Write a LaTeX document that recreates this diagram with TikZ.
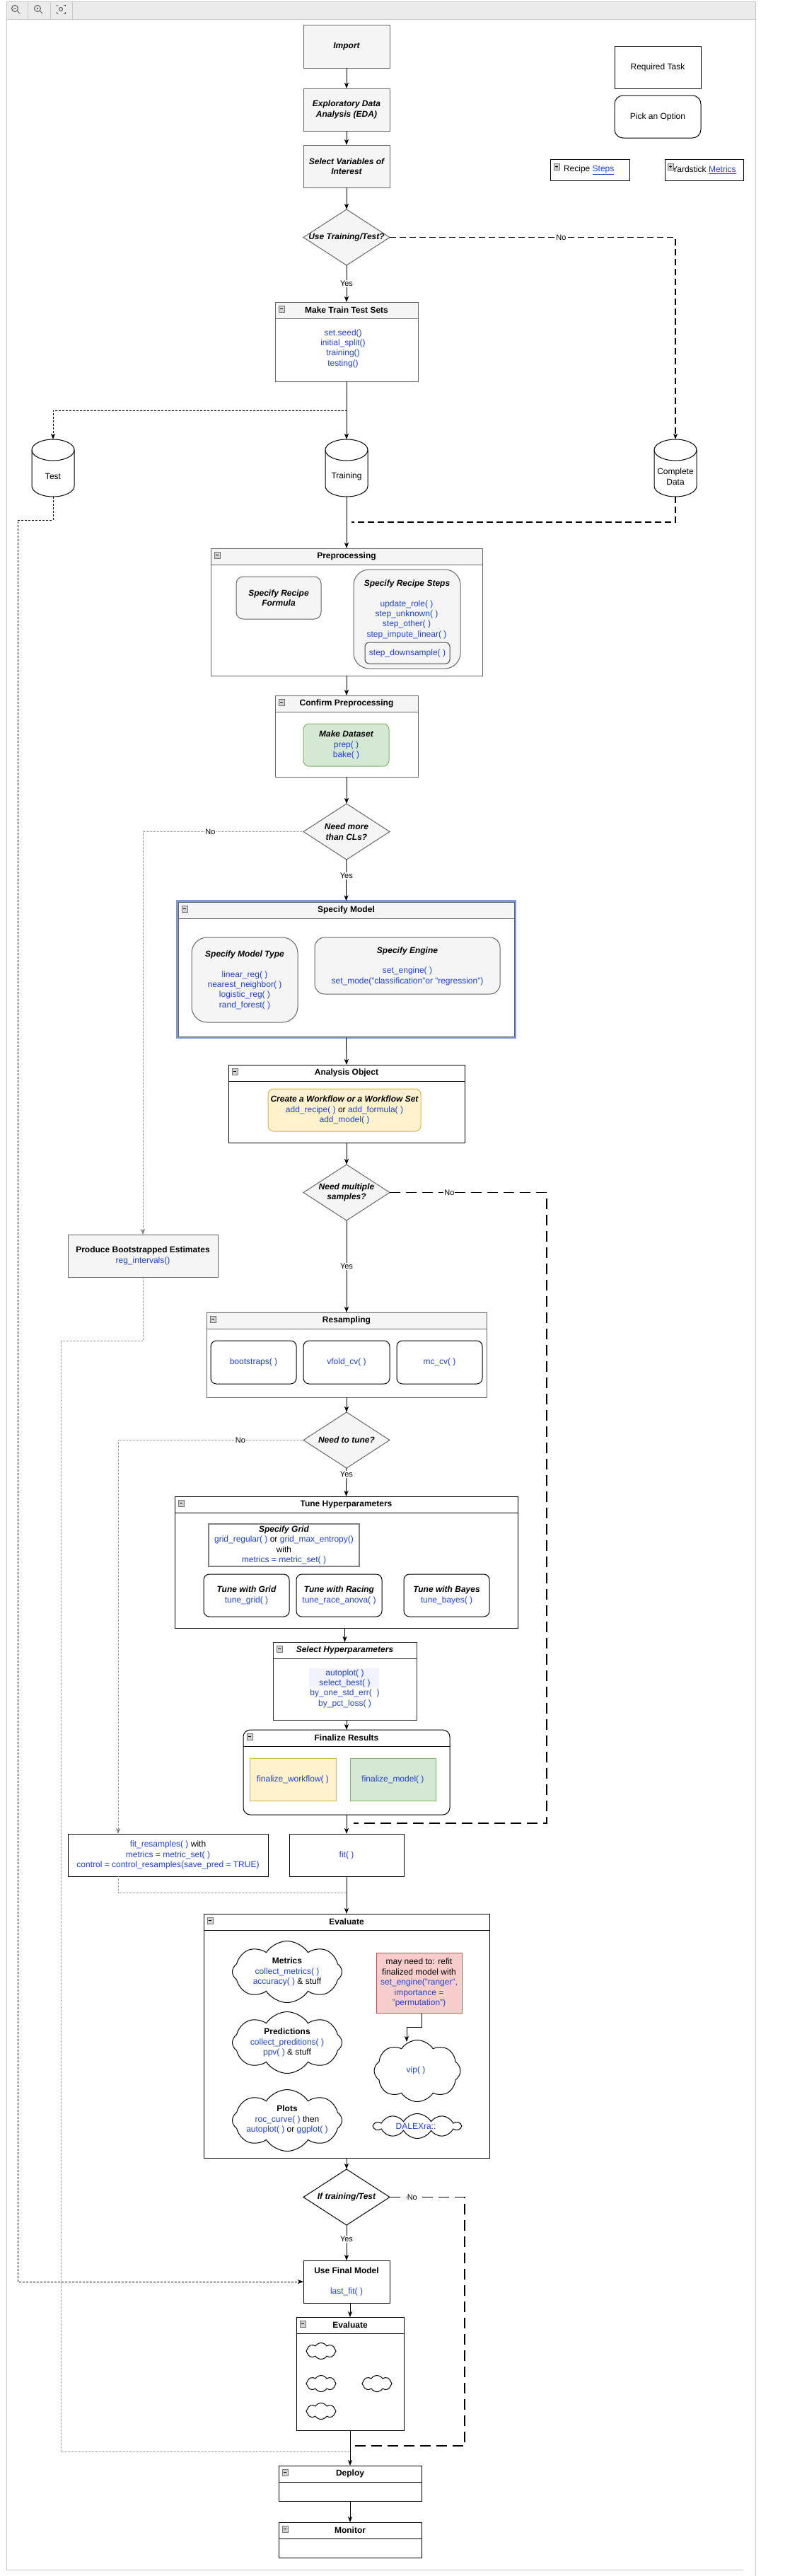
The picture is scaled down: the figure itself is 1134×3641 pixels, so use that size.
\documentclass[tikz,border=0pt]{standalone}
\usepackage{fontspec}
\setmainfont{Liberation Sans}
\usetikzlibrary{arrows.meta,shapes.symbols,calc}
\definecolor{cgray}{HTML}{666666}
\definecolor{cfill}{HTML}{F5F5F5}
\definecolor{cblue}{HTML}{2143CC}
\definecolor{gfill}{HTML}{D5E8D4}\definecolor{gline}{HTML}{82B366}
\definecolor{ofill}{HTML}{FFF2CC}\definecolor{oline}{HTML}{D6B656}
\definecolor{rfill}{HTML}{F8CECC}\definecolor{rline}{HTML}{B85450}
\definecolor{smblue}{HTML}{7E95E6}
\definecolor{framec}{HTML}{C8C8C8}
\definecolor{tbar}{HTML}{EBEBEB}
\definecolor{dotc}{HTML}{808080}
\definecolor{lav}{HTML}{F1F2FB}
\newcommand{\bl}[1]{\textcolor{cblue}{#1}}
\newcommand{\boxicon}[2]{%
  \draw[draw=black!55, fill=black!18, line width=0.6pt] #1 rectangle ++(8,9);
  \draw[line width=0.9pt] #1 ++(2,4.5) -- ++(4,0);
  \ifnum#2=1 \draw[line width=0.9pt] #1 ++(4,2.5) -- ++(0,4);\fi}
\newcommand{\lane}[8]{%
  \node[#6, minimum width=#4pt, minimum height=#5pt] (#1) at (#2,#3) {};
  \path[#7] ([xshift=0.5pt,yshift=-0.5pt]#1.north west) rectangle ([xshift=-0.5pt,yshift=-23pt]#1.north east);
  \draw[#6, fill=none] ([yshift=-23pt]#1.north west) -- ([yshift=-23pt]#1.north east);
  \node[ttl] (#1-t) at ([yshift=-11.5pt]#1.north) {#8};
  \boxicon{([xshift=5pt,yshift=-5pt]#1.north west)}{0}}
\newcommand{\dia}[5]{%
  \path[#4, line width=1pt] (#2-61,#3) -- (#2,#3-39.5) -- (#2+61,#3) -- (#2,#3+39.5) -- cycle;
  \node[minimum width=122pt, minimum height=79pt, bi] (#1) at (#2,#3) {#5};}
\newcommand{\cyl}[4]{%
  \node[minimum width=60pt, minimum height=81pt] (#1) at (#2,#3) {};
  \draw[line width=1pt, fill=white] ([yshift=-15pt]#1.north west) -- ([yshift=15pt]#1.south west)
    arc[start angle=180, end angle=360, x radius=30pt, y radius=15pt] -- ([yshift=-15pt]#1.north east)
    arc[start angle=0, end angle=180, x radius=30pt, y radius=15pt] -- cycle;
  \draw[line width=1pt] ([yshift=-15pt]#1.north west) arc[start angle=180, end angle=360, x radius=30pt, y radius=15pt];
  \node (#1-t) at ([yshift=-12pt]#1.center) {#4};}
\begin{document}
\begin{tikzpicture}[x=1pt,y=-1pt,
  every node/.style={font=\fontsize{12}{14.4}\selectfont, inner sep=0pt, outer sep=0pt, align=center},
  gbox/.style={draw=cgray, fill=cfill, line width=1pt},
  wbox/.style={draw=black, fill=white, line width=1pt},
  lgray/.style={draw=cgray, fill=white, line width=1pt},
  lblack/.style={draw=black, fill=white, line width=1pt},
  ldark/.style={draw=black!80, fill=white, line width=1pt},
  lround/.style={draw=black, fill=white, line width=1pt, rounded corners=10pt},
  hdrgray/.style={fill=cfill},
  hdrnone/.style={},
  dgrayfill/.style={draw=cgray, fill=cfill},
  dwhite/.style={draw=black, fill=white},
  ttl/.style={font=\fontsize{12}{14.4}\selectfont\bfseries},
  bi/.style={font=\fontsize{12}{14.4}\selectfont\bfseries\itshape},
  arr/.style={line width=1pt, -{Stealth[length=8pt,width=6pt,inset=2pt]}},
  lbl/.style={font=\fontsize{11}{13}\selectfont, fill=white, inner sep=1pt},
  dmed/.style={line width=1.2pt, dash pattern=on 9pt off 5pt},
  dthick/.style={line width=1.5pt, dash pattern=on 15pt off 8pt},
  dgray/.style={draw=dotc, line width=0.8pt, dash pattern=on 1pt off 1pt},
  dtest/.style={line width=1pt, dash pattern=on 3pt off 2pt},
  cloudst/.style={cloud, cloud puffs=8, cloud puff arc=115, cloud ignores aspect, draw=black, fill=white, line width=1pt},
  rbox/.style={draw=black, fill=white, line width=1pt, rounded corners=8pt}]
\useasboundingbox (0,0) rectangle (1134,3641);
% viewer frame and toolbar
\fill[tbar] (9,2) rectangle (1068,27);
\draw[framec, line width=1pt] (9,27) -- (1068,27);
\draw[framec, line width=1pt] (9,3632) -- (9,2) -- (1068,2) -- (1068,3641);
\draw[framec, line width=1pt] (9,3632) -- (1051,3632);
\foreach \x in {39,71,102} \draw[framec, line width=0.8pt] (\x,2) -- (\x,27);
\begin{scope}[draw=black!65, line width=1pt]
  \draw (21,12) circle[radius=4.5pt]; \draw (24.2,15.2) -- (28,19); \draw (19,12) -- (23,12);
  \draw (53,12) circle[radius=4.5pt]; \draw (56.2,15.2) -- (60,19); \fill[black!65] (53,12) circle[radius=1.3pt];
  \draw (80,9) -- (80,7) -- (82,7); \draw (90,7) -- (92,7) -- (92,9);
  \draw (80,17) -- (80,19) -- (82,19); \draw (90,19) -- (92,19) -- (92,17);
  \draw (86,13) circle[radius=2.5pt];
\end{scope}

% top column
\node[gbox, minimum width=122pt, minimum height=61pt, bi] (import) at (490,65.5) {Import};
\node[gbox, minimum width=122pt, minimum height=60pt, bi] (eda) at (490,155) {Exploratory Data\\Analysis (EDA)};
\node[gbox, minimum width=122pt, minimum height=60pt, bi] (selvar) at (490,235) {Select Variables of\\Interest};
\dia{d1}{490}{335.5}{dgrayfill}{Use Training/Test?}

% legend
\node[wbox, minimum width=122pt, minimum height=60pt] (req) at (930,95) {Required Task};
\node[wbox, rounded corners=12pt, minimum width=122pt, minimum height=60pt] (pick) at (930,165) {Pick an Option};
\node[wbox, minimum width=112pt, minimum height=30pt] (legrecipe) at (834,240) {};
\node[anchor=west] (legrecipe-t) at ([xshift=19pt]legrecipe.west) {Recipe \bl{\underline{Steps}}};
\boxicon{([xshift=5pt,yshift=-6pt]legrecipe.north west)}{1}
\node[wbox, minimum width=111pt, minimum height=30pt] (legyard) at (995.5,240) {Yardstick \bl{\underline{Metrics}}};
\boxicon{([xshift=4pt,yshift=-6pt]legyard.north west)}{1}

% train / test
\lane{mtts}{490}{483}{202}{112}{lgray}{hdrgray}{Make Train Test Sets}
\node (mtts-c) at (485,492.5) {\bl{set.seed()}\\\bl{initial\_split()}\\\bl{training()}\\\bl{testing()}};
\cyl{test}{75}{661.5}{Test}
\cyl{training}{490}{661.5}{Training}
\cyl{cd}{955}{661.5}{Complete\\Data}

% preprocessing
\lane{pre}{490}{865}{384}{180}{lgray}{hdrgray}{Preprocessing}
\node[gbox, rounded corners=10pt, minimum width=120pt, minimum height=60pt, bi] (formula) at (394,845) {Specify Recipe\\Formula};
\node[gbox, rounded corners=22pt, minimum width=151pt, minimum height=140pt] (rsteps) at (575.5,875) {};
\node[bi] (rsteps-t) at (575.5,825) {Specify Recipe Steps};
\node (rsteps-c) at (575,875.5) {\bl{update\_role( )}\\\bl{step\_unknown( )}\\\bl{step\_other( )}\\\bl{step\_impute\_linear( )}};
\node[draw=black!70, fill=cfill, rounded corners=6pt, line width=1pt, minimum width=120pt, minimum height=30pt] (downs) at (576,923) {\bl{step\_downsample( )}};

\lane{conf}{490}{1040.5}{202}{115}{lgray}{hdrgray}{Confirm Preprocessing}
\node[draw=gline, fill=gfill, rounded corners=8pt, line width=1pt, minimum width=121pt, minimum height=60pt] (mkdata) at (489.5,1053) {{\bfseries\itshape Make Dataset}\\\bl{prep( )}\\\bl{bake( )}};

\dia{d2}{490}{1175.5}{dgrayfill}{Need more\\than CLs?}

% specify model
\node[draw=smblue, line width=3pt, minimum width=478pt, minimum height=193pt] (smouter) at (489.5,1370) {};
\lane{sm}{489.5}{1370}{475}{190}{lgray}{hdrgray}{Specify Model}
\node[gbox, rounded corners=22pt, minimum width=150pt, minimum height=120pt] (smtype) at (346,1385) {};
\node[bi] (smtype-t) at (346,1349) {Specify Model Type};
\node (smtype-c) at (346,1399.5) {\bl{linear\_reg( )}\\\bl{nearest\_neighbor( )}\\\bl{logistic\_reg( )}\\\bl{rand\_forest( )}};
\node[gbox, rounded corners=14pt, minimum width=262pt, minimum height=80pt] (engine) at (576,1365) {};
\node[bi] (engine-t) at (576,1344) {Specify Engine};
\node (engine-c) at (576,1380) {\bl{set\_engine( )}\\\bl{set\_mode("classification"or "regression")}};

\lane{ao}{490}{1560}{334}{110}{lblack}{hdrnone}{Analysis Object}
\node[draw=oline, fill=ofill, rounded corners=8pt, line width=1pt, minimum width=216pt, minimum height=60pt] (wf) at (487,1569) {{\bfseries\itshape Create a Workflow or a Workflow Set}\\\bl{add\_recipe( )} or \bl{add\_formula( )}\\\bl{add\_model( )}};

\dia{d3}{490}{1685.5}{dgrayfill}{Need multiple\\samples?}
\node[gbox, minimum width=212pt, minimum height=60pt] (pbe) at (202,1775) {{\bfseries Produce Bootstrapped Estimates}\\\bl{reg\_intervals()}};

% resampling
\lane{rs}{490}{1915}{396}{120}{lgray}{hdrgray}{Resampling}
\node[rbox, minimum width=121pt, minimum height=61pt] (boot) at (358.5,1925.5) {\bl{bootstraps( )}};
\node[rbox, minimum width=122pt, minimum height=61pt] (vfold) at (490,1925.5) {\bl{vfold\_cv( )}};
\node[rbox, minimum width=121pt, minimum height=61pt] (mccv) at (621.5,1925.5) {\bl{mc\_cv( )}};

\dia{d4}{490}{2035.5}{dgrayfill}{Need to tune?}

% tuning
\lane{thp}{489.5}{2208}{485}{186}{lblack}{hdrnone}{Tune Hyperparameters}
\node[draw=black!50, line width=2pt, fill=white, minimum width=213pt, minimum height=60pt] (grid) at (401.5,2184) {{\bfseries\itshape Specify Grid}\\\bl{grid\_regular( )} or \bl{grid\_max\_entropy()}\\with\\\bl{metrics = metric\_set( )}};
\node[rbox, minimum width=121pt, minimum height=60pt] (tgrid) at (348.5,2255) {{\bfseries\itshape Tune with Grid}\\\bl{tune\_grid( )}};
\node[rbox, minimum width=121pt, minimum height=60pt] (trace) at (479.5,2255) {{\bfseries\itshape Tune with Racing}\\\bl{tune\_race\_anova( )}};
\node[rbox, minimum width=121pt, minimum height=60pt] (tbayes) at (631.5,2255) {{\bfseries\itshape Tune with Bayes}\\\bl{tune\_bayes( )}};

\lane{shp}{487.5}{2376}{203}{110}{ldark}{hdrnone}{\itshape Select Hyperparameters}
\fill[lav] (437,2358) rectangle (536,2385);
\node (shp-c) at (487.5,2386.5) {\bl{autoplot( )}\\\bl{select\_best( )}\\\bl{by\_one\_std\_err(\ \ )}\\\bl{by\_pct\_loss( )}};

\lane{fin}{490}{2505}{292}{120}{lround}{hdrnone}{Finalize Results}
\node[draw=oline, fill=ofill, line width=1pt, minimum width=122pt, minimum height=60pt] (finwf) at (414,2515) {\bl{finalize\_workflow( )}};
\node[draw=gline, fill=gfill, line width=1pt, minimum width=121pt, minimum height=60pt] (finmod) at (555.5,2515) {\bl{finalize\_model( )}};

\node[wbox, minimum width=283pt, minimum height=60pt] (fitres) at (237.5,2622) {\bl{fit\_resamples( )} with\\\bl{metrics = metric\_set( )}\\\bl{control = control\_resamples(save\_pred = TRUE)}};
\node[wbox, minimum width=162pt, minimum height=60pt] (fit) at (490,2622) {\bl{fit( )}};

% evaluate
\lane{ev}{490}{2877.5}{404}{345}{lblack}{hdrnone}{Evaluate}
\node[cloudst, minimum width=155pt, minimum height=87pt] (metrics) at (406,2787) {};
\node (metrics-t) at (406,2787) {{\bfseries Metrics}\\\bl{collect\_metrics( )}\\\bl{accuracy( )} \& stuff};
\node[draw=rline, fill=rfill, line width=1pt, minimum width=121pt, minimum height=85pt] (red) at (592.5,2802.5) {may need to: refit\\finalized model with\\\bl{set\_engine("ranger",}\\\bl{importance =}\\\bl{"permutation")}};
\node[cloudst, minimum width=155pt, minimum height=87pt] (pred) at (406,2887) {};
\node (pred-t) at (406,2887) {{\bfseries Predictions}\\\bl{collect\_preditions( )}\\\bl{ppv( )} \& stuff};
\node[cloudst, minimum width=122pt, minimum height=87pt] (vip) at (590,2927) {};
\node (vip-t) at (588,2926) {\bl{vip( )}};
\node[cloudst, minimum width=155pt, minimum height=87pt] (plots) at (406,2997) {};
\node (plots-t) at (406,2996) {{\bfseries Plots}\\\bl{roc\_curve( )} then\\\bl{autoplot( )} or \bl{ggplot( )}};
\node[cloudst, cloud puffs=10, cloud puff arc=120, minimum width=122pt, minimum height=35pt] (dalex) at (590,3005) {};
\node (dalex-t) at (588,3005) {\bl{DALEXra::}};

\dia{d5}{490}{3105.5}{dwhite}{If training/Test}
\node[wbox, minimum width=122pt, minimum height=60pt] (ufm) at (490,3225) {{\bfseries Use Final Model}\\[14.4pt]\bl{last\_fit( )}};

\lane{ev2}{495}{3355}{152}{160}{lblack}{hdrnone}{Evaluate}
\node[cloudst, minimum width=42pt, minimum height=23pt] (ec1) at (454,3323) {};
\node[cloudst, minimum width=42pt, minimum height=23pt] (ec2) at (454,3369) {};
\node[cloudst, minimum width=42pt, minimum height=23pt] (ec3) at (533,3369) {};
\node[cloudst, minimum width=42pt, minimum height=23pt] (ec4) at (454,3408) {};

\lane{dep}{495}{3510}{202}{50}{lblack}{hdrnone}{Deploy}
\lane{mon}{495}{3590}{202}{50}{lblack}{hdrnone}{Monitor}

% coordinates for free ends
\coordinate (j1) at (497,738);
\coordinate (tc) at (25,735);
\coordinate (c3) at (773,2577);
\coordinate (j2) at (500,2577);
\coordinate (pc) at (86,1895);
\coordinate (j4) at (495,3465);
\coordinate (j5) at (490,2675);
\coordinate (vipin) at (575,2886);
\coordinate (c5) at (657,3457);
\coordinate (j6) at (497,3457);

% connectors
\draw[arr] (import) -- (eda);
\draw[arr] (eda) -- (selvar);
\draw[arr] (selvar) -- (d1.north);
\draw[arr] (d1.south) -- node[midway, lbl] {Yes} (mtts.north);
\draw[arr, dmed] (d1.east) -| node[pos=0.3, lbl] {No} (cd.north);
\draw[arr] (mtts.south) -- (training.north);
\draw[arr, dtest] (mtts.south) -- ++(0,41) -| (test.north);
\draw[dmed] (cd.south) |- (j1);
\draw[arr] (training.south) -- (pre.north);
\draw[arr, dtest] (test.south) |- (tc) |- (ufm.west);
\draw[arr] (pre.south) -- (conf.north);
\draw[arr] (conf.south) -- (d2.north);
\draw[arr, dgray] (d2.west) -| node[pos=0.29, lbl] {No} (pbe.north);
\draw[arr] (d2.south) -- node[pos=0.39, lbl] {Yes} (smouter.north);
\draw[arr] (smouter.south) -- (ao.north);
\draw[arr] (ao.south) -- (d3.north);
\draw[dthick] (d3.east) -| node[pos=0.19, lbl] {No} (c3) -- (j2);
\draw[arr] (d3.south) -- node[midway, lbl] {Yes} (rs.north);
\draw[dgray] (pbe.south) |- (pc) |- (j4);
\draw[arr] (rs.south) -- (d4.north);
\draw[arr, dgray] (d4.west) -| node[pos=0.17, lbl] {No} ([xshift=-70.5pt]fitres.north);
\draw[arr] (d4.south) -- node[pos=0.22, lbl] {Yes} (thp.north);
\draw[arr] (shp.north |- thp.south) -- (shp.north);
\draw[arr] (fin.north |- shp.south) -- (fin.north);
\draw[arr] (fin.south) -- (fit.north);
\draw[dgray] ([xshift=-70.5pt]fitres.south) |- (j5);
\draw[arr] (fit.south) -- (ev.north);
\draw[arr] ([xshift=3.5pt]red.south) -- ++(0,20) -| (vipin);
\draw[arr] (ev.south) -- (d5.north);
\draw[dthick] (d5.east) -| node[pos=0.15, lbl] {No} (c5) -- (j6);
\draw[arr] (d5.south) -- node[pos=0.4, lbl] {Yes} (ufm.north);
\draw[arr] (ev2.north |- ufm.south) -- (ev2.north);
\draw[arr] (ev2.south) -- (dep.north);
\draw[arr] (dep.south) -- (mon.north);
\end{tikzpicture}
\end{document}
